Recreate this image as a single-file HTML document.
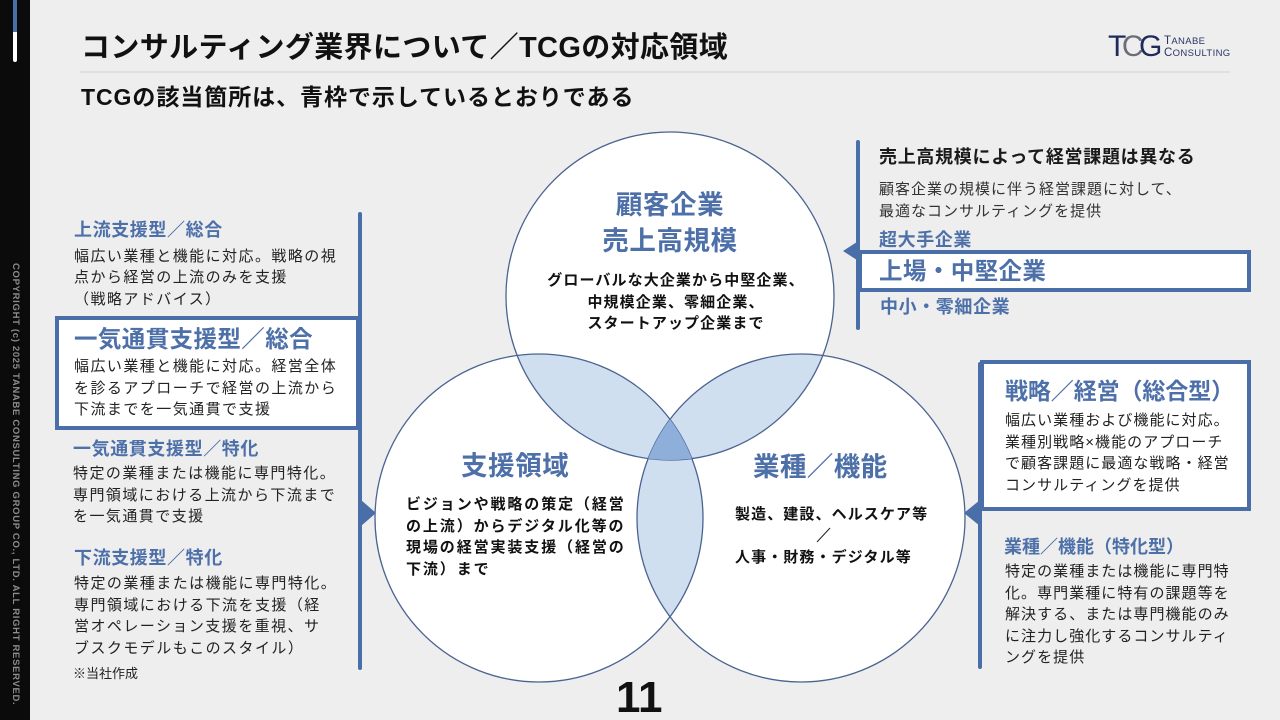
<!DOCTYPE html>
<html lang="ja"><head><meta charset="utf-8">
<style>
html,body{margin:0;padding:0;width:1280px;height:720px;overflow:hidden}
#p{width:1280px;height:720px;position:relative;overflow:hidden;background:#eeeeee;font-family:"Liberation Sans","Noto Sans CJK JP",sans-serif;color:#222}
.t{position:absolute;white-space:nowrap;margin:0}
.b{font-weight:700}
.blue{color:#4d70a9;font-weight:700}
.body{font-size:15px;line-height:21.5px;color:#222;letter-spacing:1.45px}
.rb{letter-spacing:1.05px}
.h{font-size:18px;line-height:24px;letter-spacing:.6px}
.hb{font-size:23.5px;line-height:32px;letter-spacing:.4px}
.box{position:absolute;background:#fff;border:4px solid #4a6ea8;box-sizing:border-box}
.bar{position:absolute;background:#4a6ea8;border-radius:2px}
.c{text-align:center}
</style></head><body><div id="p">
<div style="position:absolute;left:0;top:0;width:30px;height:720px;background:#0b0b0b"></div>
<div style="position:absolute;left:13px;top:0;width:4px;height:32px;background:#4a6ea8"></div>
<div style="position:absolute;left:13px;top:32px;width:4px;height:30px;background:#fff;border-radius:0 0 2px 2px"></div>
<div class="t b" style="left:10px;top:263px;font-size:9.5px;line-height:10px;color:#8c8c8c;letter-spacing:.68px;writing-mode:vertical-rl;font-family:'Liberation Sans',sans-serif">COPYRIGHT (c) 2025 TANABE CONSULTING GROUP CO., LTD. ALL RIGHT RESERVED.</div>

<div class="t b" style="left:81px;top:28px;font-size:29px;line-height:40px;color:#111;letter-spacing:.37px">コンサルティング業界について／TCGの対応領域</div>
<div style="position:absolute;left:80px;top:71px;width:1150px;height:2px;background:#e0e0e0"></div>
<div class="t b" style="left:81px;top:81px;font-size:23px;line-height:32px;color:#111;letter-spacing:.95px">TCGの該当箇所は、青枠で示しているとおりである</div>

<div class="t" style="left:1108px;top:32px;font-size:30px;line-height:30px;color:#1f2a5c;letter-spacing:-4.5px;font-family:'Liberation Sans',sans-serif">T<span style="color:#6b6e78">C</span>G</div>
<div class="t" style="left:1164px;top:36px;font-size:11.5px;line-height:11.5px;color:#2a3566;letter-spacing:.35px;font-family:'Liberation Sans',sans-serif">T<span style="font-size:9.5px">ANABE</span><br>C<span style="font-size:9.5px">ONSULTING</span></div>

<svg style="position:absolute;left:0;top:0" width="1280" height="720">
<defs>
<clipPath id="a"><circle cx="670" cy="296" r="164"/></clipPath>
<clipPath id="l"><circle cx="539" cy="518" r="164"/></clipPath>
<clipPath id="r"><circle cx="801" cy="518" r="164"/></clipPath>
</defs>
<circle cx="670" cy="296" r="164" fill="#fff"/>
<circle cx="539" cy="518" r="164" fill="#fff"/>
<circle cx="801" cy="518" r="164" fill="#fff"/>
<g clip-path="url(#a)"><circle cx="539" cy="518" r="164" fill="#d0dff0"/><circle cx="801" cy="518" r="164" fill="#d0dff0"/></g>
<g clip-path="url(#l)"><circle cx="801" cy="518" r="164" fill="#d0dff0"/></g>
<g fill="none" stroke="#4a6391" stroke-width="1.3">
<circle cx="670" cy="296" r="164"/><circle cx="539" cy="518" r="164"/><circle cx="801" cy="518" r="164"/>
</g>
<g clip-path="url(#a)"><g clip-path="url(#l)"><circle cx="801" cy="518" r="164" fill="#8fafdb"/></g></g>
<polygon points="361,500 376,513 361,526" fill="#4a6ea8"/>
<polygon points="980,500 964,513 980,526" fill="#4a6ea8"/>
<polygon points="860,240 843,251 860,262" fill="#4a6ea8"/>
<line x1="817" y1="542" x2="830" y2="528" stroke="#222" stroke-width="1"/>
</svg>

<!-- left -->
<div class="bar" style="left:358px;top:212px;width:4px;height:458px"></div>
<div class="t blue h" style="left:74px;top:218px">上流支援型／総合</div>
<div class="t body" style="left:74px;top:245.5px">幅広い業種と機能に対応。戦略の視<br>点から経営の上流のみを支援<br>（戦略アドバイス）</div>
<div class="box" style="left:55px;top:316px;width:305px;height:114px"></div>
<div class="t blue hb" style="left:74px;top:323px">一気通貫支援型／総合</div>
<div class="t body" style="left:74px;top:356px">幅広い業種と機能に対応。経営全体<br>を診るアプローチで経営の上流から<br>下流までを一気通貫で支援</div>
<div class="t blue h" style="left:73px;top:437px">一気通貫支援型／特化</div>
<div class="t body" style="left:73px;top:463px">特定の業種または機能に専門特化。<br>専門領域における上流から下流まで<br>を一気通貫で支援</div>
<div class="t blue h" style="left:74px;top:546px">下流支援型／特化</div>
<div class="t body" style="left:74px;top:573px">特定の業種または機能に専門特化。<br>専門領域における下流を支援（経<br>営オペレーション支援を重視、サ<br>ブスクモデルもこのスタイル）</div>
<div class="t" style="left:73px;top:665px;font-size:13px;line-height:18px;color:#222">※当社作成</div>

<!-- circles text -->
<div class="t blue c" style="left:570px;width:200px;top:188px;font-size:26.5px;line-height:35.5px;letter-spacing:.6px">顧客企業<br>売上高規模</div>
<div class="t b c" style="left:526px;width:300px;top:270px;font-size:15px;line-height:21.5px;color:#111;letter-spacing:1.1px">グローバルな大企業から中堅企業、<br>中規模企業、零細企業、<br>スタートアップ企業まで</div>
<div class="t blue" style="left:461px;top:448px;font-size:26.5px;line-height:36px;letter-spacing:.6px">支援領域</div>
<div class="t b" style="left:406px;top:494px;font-size:15px;line-height:21.5px;color:#111;letter-spacing:1.9px">ビジョンや戦略の策定（経営<br>の上流）からデジタル化等の<br>現場の経営実装支援（経営の<br>下流）まで</div>
<div class="t blue" style="left:753px;top:449px;font-size:26.5px;line-height:36px;letter-spacing:.4px">業種／機能</div>
<div class="t b" style="left:735px;top:504px;font-size:15px;line-height:21.5px;color:#111;letter-spacing:1.1px">製造、建設、ヘルスケア等</div>
<div class="t b" style="left:735px;top:547px;font-size:15px;line-height:21.5px;color:#111;letter-spacing:1.1px">人事・財務・デジタル等</div>

<!-- right top -->
<div class="bar" style="left:856px;top:140px;width:4px;height:190px"></div>
<div class="t b h" style="left:879px;top:145px;color:#1a1a1a;letter-spacing:.7px">売上高規模によって経営課題は異なる</div>
<div class="t" style="left:879px;top:179px;font-size:15px;line-height:22px;color:#333;letter-spacing:1px">顧客企業の規模に伴う経営課題に対して、<br>最適なコンサルティングを提供</div>
<div class="t blue h" style="left:879px;top:228px">超大手企業</div>
<div class="box" style="left:858px;top:250px;width:393px;height:42px"></div>
<div class="t blue" style="left:879px;top:254px;font-size:23.5px;line-height:34px;letter-spacing:.4px">上場・中堅企業</div>
<div class="t blue h" style="left:880px;top:295px">中小・零細企業</div>

<!-- right bottom -->
<div class="bar" style="left:978px;top:362px;width:4px;height:307px"></div>
<div class="box" style="left:980px;top:360px;width:271px;height:151px"></div>
<div class="t blue" style="left:1005px;top:375px;font-size:23px;line-height:32px;letter-spacing:-.1px">戦略／経営（総合型）</div>
<div class="t body rb" style="left:1005px;top:410px">幅広い業種および機能に対応。<br>業種別戦略×機能のアプローチ<br>で顧客課題に最適な戦略・経営<br>コンサルティングを提供</div>
<div class="t blue h" style="left:1004px;top:535px;letter-spacing:0">業種／機能（特化型）</div>
<div class="t body rb" style="left:1005px;top:561px">特定の業種または機能に専門特<br>化。専門業種に特有の課題等を<br>解決する、または専門機能のみ<br>に注力し強化するコンサルティ<br>ングを提供</div>

<div class="t b" style="left:616px;top:671px;font-size:44px;line-height:54px;color:#111;font-family:'Liberation Sans',sans-serif">11</div>
</div></body></html>
